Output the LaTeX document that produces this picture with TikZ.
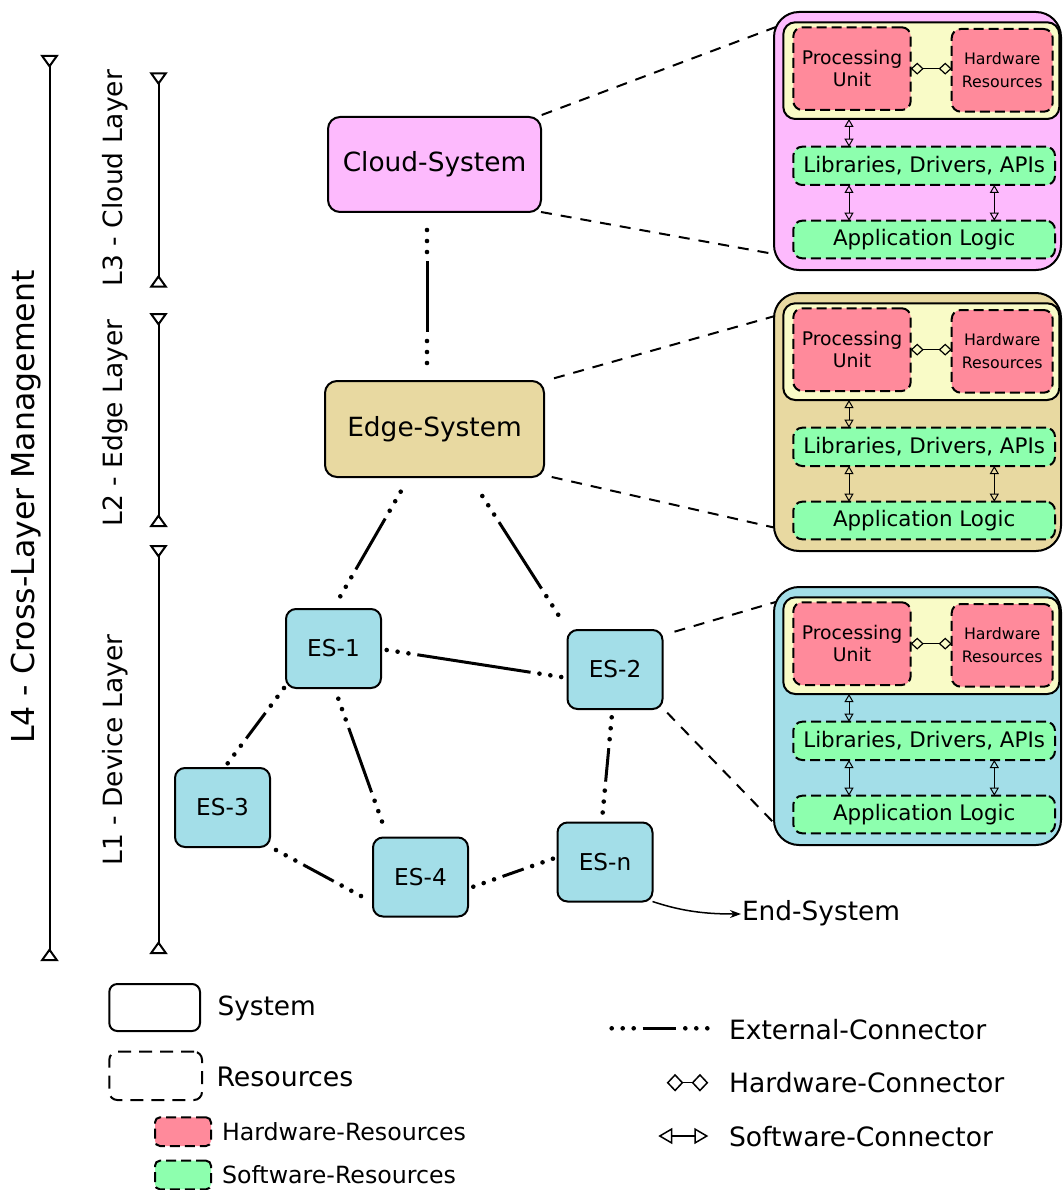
\documentclass[tikz,border=0pt]{standalone}
\usepackage{fontspec}
\setmainfont{DejaVu Sans}
\usetikzlibrary{arrows.meta,calc}

\definecolor{cloudc}{HTML}{FDBAFD}
\definecolor{edgec}{HTML}{E8D9A1}
\definecolor{devc}{HTML}{A3DEE8}
\definecolor{yelc}{HTML}{F9FBC7}
\definecolor{hwc}{HTML}{FF8A9B}
\definecolor{swc}{HTML}{8DFFAE}

\tikzset{
  sys/.style={draw, line width=2pt, rounded corners=10pt, inner sep=0pt, outer sep=0pt, align=center},
  res/.style={draw, line width=2pt, dash pattern=on 10pt off 5pt, rounded corners=9pt, inner sep=0pt, outer sep=0pt, align=center},
  extline/.style={line width=3pt, shorten <=31pt, shorten >=31pt},
  pline/.style={line width=2pt, dash pattern=on 11pt off 9pt},
  hwconn/.style={line width=1.2pt, {Diamond[open,length=13pt,width=12pt]}-{Diamond[open,length=13pt,width=12pt]}},
  swconn/.style={line width=1pt, {Triangle[open,length=8pt,width=9pt]}-{Triangle[open,length=8pt,width=9pt]}},
  axisline/.style={line width=2pt, {Triangle[open,reversed,length=13pt,width=18pt]}-{Triangle[open,reversed,length=13pt,width=18pt]}},
  txt/.style={inner sep=0pt, outer sep=0pt},
}

\newcommand\extc[2]{%
  \coordinate (xA) at #1;
  \coordinate (xB) at #2;
  \draw[extline] (xA) -- (xB);
  \foreach \dd in {0,11,22}{%
    \fill ($(xA)!\dd pt!(xB)$) circle[radius=2.3pt];
    \fill ($(xB)!\dd pt!(xA)$) circle[radius=2.3pt];}%
}

\newcommand\panel[3]{%
  \node[sys, fill=#3, rounded corners=25pt, minimum width=287pt, minimum height=258pt] (#1) at (917.5,#2+129) {};
  \node[sys, fill=yelc, rounded corners=12pt, minimum width=276pt, minimum height=96.7pt] (#1y) at (921.3,#2+58.65) {};
  \node[res, fill=hwc, minimum width=117.4pt, minimum height=82.7pt, font=\fontsize{18.8}{22}\selectfont] (#1pu) at (852,#2+56.65) {Processing\\Unit};
  \node[res, fill=hwc, minimum width=101pt, minimum height=82.7pt, font=\fontsize{15.8}{23}\selectfont] (#1hr) at (1002.2,#2+58.35) {Hardware\\Resources};
  \node[res, fill=swc, minimum width=261.7pt, minimum height=38.3pt, font=\fontsize{21.4}{25}\selectfont] (#1lib) at (924.15,#2+153.85) {Libraries, Drivers, APIs};
  \node[res, fill=swc, minimum width=261.7pt, minimum height=37.6pt, font=\fontsize{21.4}{25}\selectfont] (#1app) at (924.15,#2+227.5) {Application Logic};
  \draw[hwconn] (#1pu.east) -- (#1pu.east -| #1hr.west);
  \draw[swconn] ([xshift=65.7pt]#1y.south west) -- ([xshift=55.7pt]#1lib.north west);
  \draw[swconn] ([xshift=55.7pt]#1lib.south west) -- ([xshift=55.7pt]#1app.north west);
  \draw[swconn] ([xshift=201pt]#1lib.south west) -- ([xshift=201pt]#1app.north west);
}

\begin{document}
\begin{tikzpicture}[x=1pt, y=-1pt]
\useasboundingbox (0,0) rectangle (1062,1190);

% layer axes
\coordinate (a4t) at (49.5,55); \coordinate (a4b) at (49.5,961);
\coordinate (a3t) at (158.5,72.3); \coordinate (a3b) at (158.5,287.7);
\coordinate (a2t) at (158.5,313); \coordinate (a2b) at (158.5,527);
\coordinate (a1t) at (158.5,545); \coordinate (a1b) at (158.5,954);
\draw[axisline] (a4t) -- (a4b);
\draw[axisline] (a3t) -- (a3b);
\draw[axisline] (a2t) -- (a2b);
\draw[axisline] (a1t) -- (a1b);
\node[txt, rotate=90, anchor=base, font=\fontsize{31.6}{36}\selectfont] (l4) at (34,507) {L4 - Cross-Layer Management};
\node[txt, rotate=90, anchor=base, font=\fontsize{26.5}{30}\selectfont] (l3) at (122.5,178) {L3 - Cloud Layer};
\node[txt, rotate=90, anchor=base, font=\fontsize{26.5}{30}\selectfont] (l2) at (122.5,423) {L2 - Edge Layer};
\node[txt, rotate=90, anchor=base, font=\fontsize{26.5}{30}\selectfont] (l1) at (122.5,750) {L1 - Device Layer};

% panels
\panel{p1}{12}{cloudc}
\panel{p2}{293}{edgec}
\panel{p3}{587}{devc}

% systems
\node[sys, fill=cloudc, rounded corners=12pt, minimum width=213pt, minimum height=95pt, font=\fontsize{26.4}{30}\selectfont] (cloudsys) at (434.5,164.5) {Cloud-System};
\node[sys, fill=edgec, rounded corners=12pt, minimum width=219pt, minimum height=96pt, font=\fontsize{26.4}{30}\selectfont] (edgesys) at (434.5,429) {Edge-System};
\tikzset{es/.style={sys, fill=devc, rounded corners=10pt, minimum width=95pt, minimum height=79pt, font=\fontsize{23.2}{27}\selectfont}}
\node[es] (es1) at (333.5,648.5) {ES-1};
\node[es] (es2) at (615,669.5) {ES-2};
\node[es] (es3) at (222.5,807.5) {ES-3};
\node[es] (es4) at (420.5,877) {ES-4};
\node[es] (esn) at (605,862) {ES-n};

% dashed zoom lines
\draw[pline] ([shift={(0.7,-2)}]cloudsys.north east) -- ([shift={(2,15)}]p1.north west);
\draw[pline] (cloudsys.south east) -- ([shift={(0,-16)}]p1.south west);
\draw[pline] ([shift={(10,-2.7)}]edgesys.north east) -- ([shift={(1,23)}]p2.north west);
\draw[pline] ([shift={(7.7,0)}]edgesys.south east) -- ([shift={(-1,-23.7)}]p2.south west);
\draw[pline] ([shift={(12,1.7)}]es2.north east) -- ([shift={(2.7,14.7)}]p3.north west);
\draw[pline] ([shift={(4.7,3.7)}]es2.south east) -- ([shift={(-0.7,-22.7)}]p3.south west);

% external connectors
\extc{([shift={(-7.5,18)}]cloudsys.south)}{([shift={(-7.5,-18)}]edgesys.north)}
\extc{([shift={(-33.8,14.7)}]edgesys.south)}{([shift={(6.8,-12.7)}]es1.north)}
\extc{([shift={(47.8,19)}]edgesys.south)}{([shift={(-9.3,-15.3)}]es2.north west)}
\extc{([shift={(5.7,1.5)}]es1.east)}{([shift={(-6.3,7.5)}]es2.west)}
\extc{([shift={(-2,0)}]es1.south west)}{([shift={(5.2,-4.7)}]es3.north)}
\extc{([shift={(4.8,10.7)}]es1.south)}{([shift={(9,-16)}]es4.north west)}
\extc{([shift={(6,3)}]es3.south east)}{([shift={(-12,19)}]es4.west)}
\extc{([shift={(-3.3,8.3)}]es2.south)}{([shift={(-2.3,-10)}]esn.north)}
\extc{([shift={(5.3,9.7)}]es4.east)}{([shift={(-4.6,-3.3)}]esn.west)}

% end system
\node[txt, anchor=base west, font=\fontsize{26.4}{30}\selectfont] (endsys) at (742,920) {End-System};
\draw[line width=1.5pt, -{Stealth[length=11pt,width=8pt]}] (esn.south east) .. controls +(30,10) and +(-35,0) .. ([shift={(-1,-6)}]endsys.base west);

% legend
\node[sys, rounded corners=8pt, minimum width=90.7pt, minimum height=47pt] (lsys) at (154.65,1007.5) {};
\node[res, dash pattern=on 13pt off 8pt, rounded corners=8pt, minimum width=92.7pt, minimum height=48.3pt] (lres) at (155.65,1075.85) {};
\node[res, fill=hwc, rounded corners=5pt, minimum width=56pt, minimum height=28.7pt] (lhw) at (183,1131.65) {};
\node[res, fill=swc, rounded corners=5pt, minimum width=56pt, minimum height=28.7pt] (lsw) at (183,1175) {};
\node[txt, anchor=base west, font=\fontsize{26.4}{30}\selectfont] (tsys) at (217.5,1015) {System};
\node[txt, anchor=base west, font=\fontsize{26.8}{30}\selectfont] (tres) at (216.5,1086) {Resources};
\node[txt, anchor=base west, font=\fontsize{23.7}{27}\selectfont] (thw) at (222,1140) {Hardware-Resources};
\node[txt, anchor=base west, font=\fontsize{23.7}{27}\selectfont] (tsw) at (222,1183.3) {Software-Resources};

\coordinate (ea) at (611.7,1028.3); \coordinate (eb) at (707.3,1028.3);
\extc{(ea)}{(eb)}
\coordinate (ha) at (666.7,1082.7); \coordinate (hb) at (708.3,1082.7);
\draw[line width=1.5pt, {Diamond[open,length=16.7pt,width=17.7pt]}-{Diamond[open,length=16.7pt,width=17.7pt]}] (ha) -- (hb);
\coordinate (sa) at (658.3,1136); \coordinate (sb) at (708.3,1136);
\draw[line width=1.5pt, {Triangle[open,length=14pt,width=16pt]}-{Triangle[open,length=14pt,width=16pt]}] (sa) -- (sb);
\node[txt, anchor=base west, font=\fontsize{26.6}{30}\selectfont] (text) at (729,1039) {External-Connector};
\node[txt, anchor=base west, font=\fontsize{26.6}{30}\selectfont] (thc) at (729,1092.7) {Hardware-Connector};
\node[txt, anchor=base west, font=\fontsize{26.6}{30}\selectfont] (tsc) at (729,1146.7) {Software-Connector};
\end{tikzpicture}
\end{document}
